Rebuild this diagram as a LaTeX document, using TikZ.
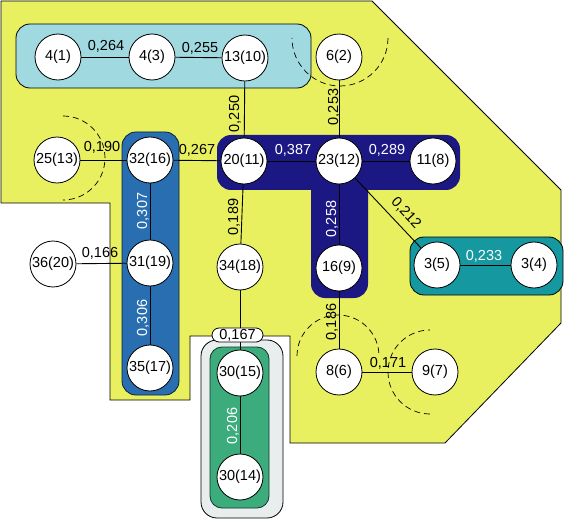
\documentclass[tikz,border=0pt]{standalone}
\usepackage{fontspec}
\setmainfont{Liberation Sans}
\pgfdeclarelayer{bglayer}
\pgfdeclarelayer{edgelayer}
\pgfsetlayers{bglayer,edgelayer,main}
\definecolor{yel}{HTML}{E9F05F}
\definecolor{cyanbox}{HTML}{A0DAE0}
\definecolor{navybox}{HTML}{1B1884}
\definecolor{bluebox}{HTML}{286EB0}
\definecolor{tealbox}{HTML}{1698A0}
\definecolor{greenbox}{HTML}{3CAC7C}
\definecolor{graybox}{HTML}{E8EEEE}
\begin{document}
\begin{tikzpicture}[x=1pt,y=-1pt,
  font=\fontsize{14.5}{17}\selectfont,
  vert/.style={circle, draw=black, fill=white, line width=0.8pt, minimum size=46pt, inner sep=0pt},
  conn/.style={draw=black, line width=0.9pt},
  lbl/.style={anchor=base, inner sep=0pt},
  wlbl/.style={lbl, text=white},
  vlbl/.style={lbl, rotate=90},
  wvlbl/.style={wlbl, rotate=90},
  grp/.style={draw=black, line width=0.8pt, rounded corners=14pt},
  arcd/.style={draw=black, line width=0.7pt, dash pattern=on 6pt off 4pt}]
\useasboundingbox (0,0) rectangle (566,519);

% ---------- containers ----------
\begin{pgfonlayer}{bglayer}
  \draw[fill=yel, line width=0.8pt] (1,1) -- (372,1) -- (561,190) -- (561,323) -- (445,443)
     -- (290,443) -- (290,336) -- (190,336) -- (190,400) -- (110,400) -- (110,203) -- (1,203) -- cycle;
  \draw[grp, fill=cyanbox] (16,24) rectangle (311,88);
  \draw[grp, fill=bluebox, draw=black!70!bluebox] (122,132) rectangle (179,395);
  \fill[navybox, rounded corners=14pt] (217,135) rectangle (460,190);
  \fill[navybox, rounded corners=14pt] (311,150) rectangle (368,298);
  \fill[navybox] (311,150) rectangle (368,190);
  \draw[grp, fill=tealbox] (410,237) rectangle (563,295);
  \draw[grp, fill=graybox, rounded corners=16pt] (201,340) rectangle (283,518);
  \draw[grp, fill=greenbox, rounded corners=12pt, draw=black!70!greenbox] (210,347) rectangle (269,508);
  % dashed arcs
  \coordinate (c62) at (340,38);
  \coordinate (c2513) at (63,158);
  \coordinate (c86) at (338,356);
  \coordinate (c97) at (430,372);
  \draw[arcd] ([shift={(0:48)}]c62) arc[start angle=0, end angle=180, radius=48];
  \draw[arcd] ([shift={(-90:42)}]c2513) arc[start angle=-90, end angle=90, radius=42];
  \draw[arcd] ([shift={(180:41)}]c86) arc[start angle=180, end angle=360, radius=41];
  \draw[arcd] ([shift={(90:42)}]c97) arc[start angle=90, end angle=270, radius=42];
\end{pgfonlayer}

% ---------- vertices ----------
\node[vert] (a41)   at (58,57)   {4(1)};
\node[vert] (a43)   at (152,57)  {4(3)};
\node[vert] (a1310) at (245,58)  {13(10)};
\node[vert] (a62)   at (339,57)  {6(2)};
\node[vert] (a2513) at (57,160)  {25(13)};
\node[vert] (a3216) at (150,160) {32(16)};
\node[vert] (a2011) at (244,161) {20(11)};
\node[vert] (a2312) at (339,161) {23(12)};
\node[vert] (a118)  at (433,161) {11(8)};
\node[vert] (a3620) at (53,264)  {36(20)};
\node[vert] (a3119) at (150,263) {31(19)};
\node[vert] (a3418) at (240,267) {34(18)};
\node[vert] (a169)  at (339,268) {16(9)};
\node[vert] (a35)   at (437,265) {3(5)};
\node[vert] (a34)   at (534,265) {3(4)};
\node[vert] (a3517) at (150,368) {35(17)};
\node[vert] (a3015) at (240,373) {30(15)};
\node[vert] (a3014) at (240,477) {30(14)};
\node[vert] (a86)   at (339,372) {8(6)};
\node[vert] (a97)   at (435,372) {9(7)};

% ---------- connectors ----------
\begin{pgfonlayer}{edgelayer}
  \draw[conn] (a41) -- (a43);
  \draw[conn] (a43) -- (a1310);
  \draw[conn] (a1310) -- (a2011);
  \draw[conn] (a62) -- (a2312);
  \draw[conn] (a2513) -- (a3216);
  \draw[conn] (a3216) -- (a2011);
  \draw[conn] (a2011) -- (a2312);
  \draw[conn] (a2312) -- (a118);
  \draw[conn] (a2312) -- (a35);
  \draw[conn] (a35) -- (a34);
  \draw[conn] (a3216) -- (a3119);
  \draw[conn] (a3119) -- (a3517);
  \draw[conn] (a3620) -- (a3119);
  \draw[conn] (a2011) -- (a3418);
  \draw[conn] (a3418) -- (a3015);
  \draw[conn] (a3015) -- (a3014);
  \draw[conn] (a2312) -- (a169);
  \draw[conn] (a169) -- (a86);
  \draw[conn] (a86) -- (a97);
\end{pgfonlayer}

% ---------- labels ----------
\node[lbl]  (l264) at (106,51)  {0,264};
\node[lbl]  (l255) at (200,53)  {0,255};
\node[vlbl] (l250) at (239,114) {0,250};
\node[vlbl] (l253) at (338,107) {0,253};
\node[lbl]  (l190) at (102,152) {0,190};
\node[lbl]  (l267) at (197,155) {0,267};
\node[wlbl] (l387) at (293,155) {0,387};
\node[wlbl] (l289) at (387,155) {0,289};
\node[lbl, rotate=-47] (l212) at (403,216) {0,212};
\node[wvlbl] (l307) at (147,211) {0,307};
\node[vlbl]  (l189) at (238,217) {0,189};
\node[wvlbl] (l258) at (336,219) {0,258};
\node[lbl]   (l166) at (100,258) {0,166};
\node[wlbl]  (l233) at (484,261) {0,233};
\node[wvlbl] (l306) at (147,318) {0,306};
\node[vlbl]  (l186) at (336,322) {0,186};
\node[lbl]   (l171) at (388,367) {0,171};
\node[wvlbl] (l206) at (237,426) {0,206};
\node[draw=black, fill=white, line width=0.8pt, rounded corners=7pt, minimum width=51pt,
      minimum height=14pt, inner sep=0pt] (l167) at (237.5,335) {0,167};
\end{tikzpicture}
\end{document}
